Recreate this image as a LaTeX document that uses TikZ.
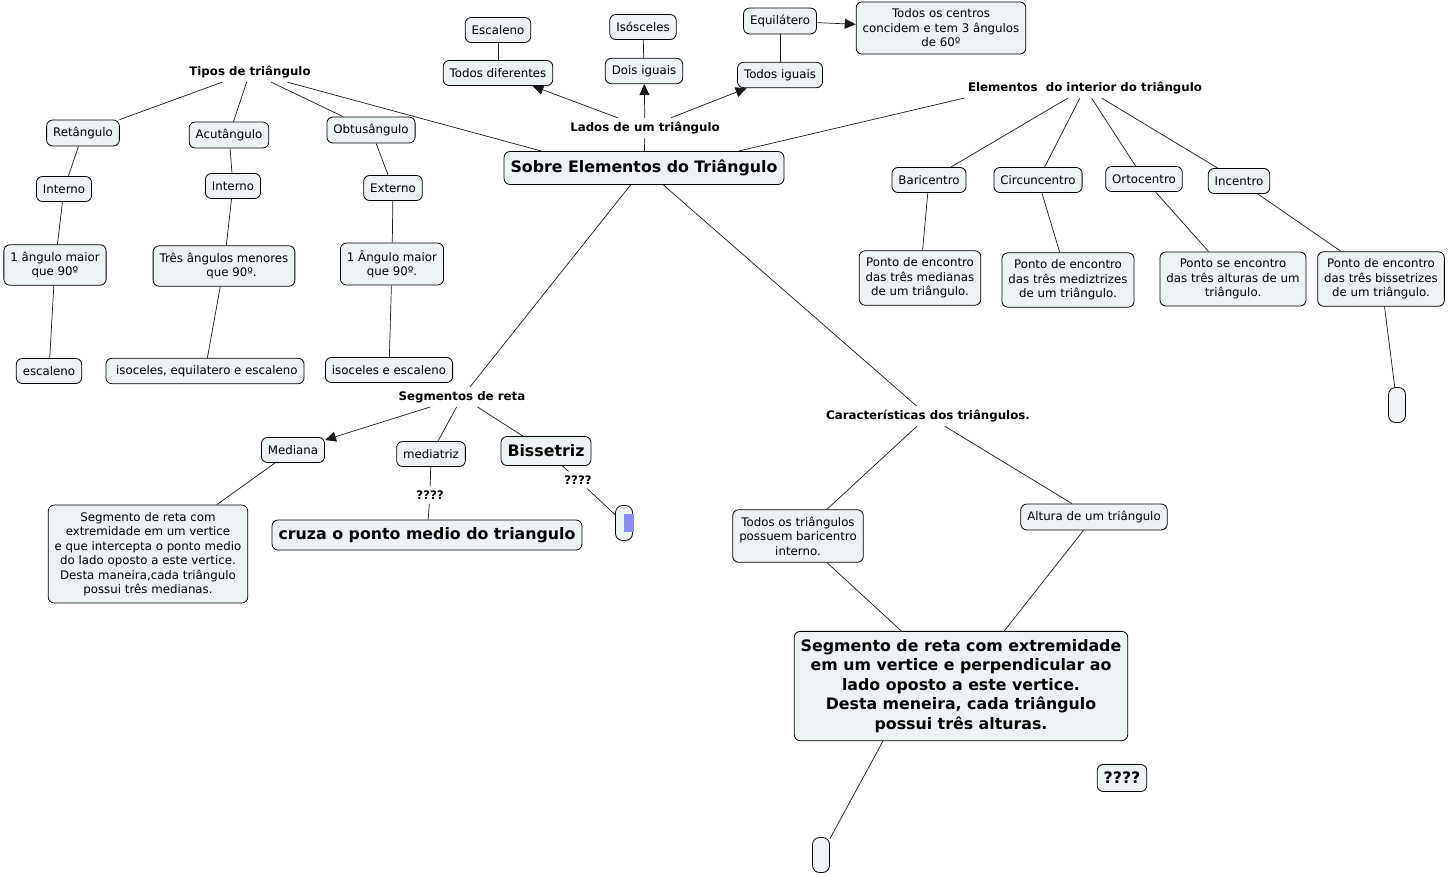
\documentclass[tikz,border=0pt]{standalone}
\usepackage{fontspec}
\setmainfont{DejaVu Sans}
\usetikzlibrary{arrows.meta}
\usetikzlibrary{positioning}
\definecolor{fundo}{RGB}{237,243,245}
\definecolor{marca}{RGB}{140,140,250}

\begin{document}
\begin{tikzpicture}[x=1pt,y=-1pt,>={Triangle[length=11pt,width=10pt]},
  conceito/.style={draw=black, line width=0.8pt, fill=fundo, rounded corners=6pt, align=center,
    inner xsep=6.5pt, inner ysep=7pt, minimum height=25pt, font=\fontsize{11.8}{14.5}\selectfont},
  destaque/.style={conceito, font=\bfseries\fontsize{15.8}{19.5}\selectfont},
  ligacao/.style={inner sep=4pt, font=\bfseries\fontsize{11.8}{14}\selectfont},
  vazio/.style={draw=black, line width=0.8pt, fill=fundo, rounded corners=7pt, minimum width=17pt, minimum height=35pt},
  liga/.style={draw=black!90, line width=0.7pt}]
    \useasboundingbox (0,0) rectangle (1448,876);
    % conceito central e frases de ligacao
    \node[destaque, minimum height=33pt] (sobre) at (644,168) {Sobre Elementos do Triângulo};
    \node[ligacao] (lados) at (645,128) {Lados de um triângulo};
    \node[ligacao] (tipos) at (250,72) {Tipos de triângulo};
    \node[ligacao] (elem) at (1085,88) {Elementos\ \ do interior do triângulo};
    \node[ligacao] (segm) at (462,397) {Segmentos de reta};
    \node[ligacao] (carac) at (928,416) {Características dos triângulos.};

    % lados
    \node[conceito] (escal) at (498,30) {Escaleno};
    \node[conceito] (difer) at (498,73) {Todos diferentes};
    \node[conceito] (isosc) at (643,27) {Isósceles};
    \node[conceito] (dois) at (644,71) {Dois iguais};
    \node[conceito] (equil) at (780,21) {Equilátero};
    \node[conceito] (iguais) at (780,75) {Todos iguais};
    \node[conceito] (centros) at (941,28) {Todos os centros\\concidem e tem 3 ângulos\\de 60º};

    % tipos: tres colunas, cada uma uma cadeia
    \node[conceito] (ret) at (83,133) {Retângulo};
    \node[conceito] (acut) at (229,135) {Acutângulo};
    \node[conceito] (obtu) at (371,130) {Obtusângulo};
    \node[conceito] (intA) at (64,189) {Interno};
    \node[conceito] (intB) at (233,186) {Interno};
    \node[conceito] (ext) at (393,188) {Externo};
    \node[conceito] (maiorA) at (55,265) {1 ângulo maior\\que 90º};
    \node[conceito] (menores) at (224,266) {Três ângulos menores\\\ \ \ \ que 90º.};
    \node[conceito] (maiorB) at (392,264) {1 Ângulo maior\\que 90º.};
    \node[conceito] (escA) at (49,371) {escaleno};
    \node[conceito] (escB) at (205,371) {\ isoceles, equilatero e escaleno};
    \node[conceito] (escC) at (389,370) {isoceles e escaleno};

    % elementos do interior
    \node[conceito] (bari) at (929,180) {Baricentro};
    \node[conceito] (circ) at (1038,180) {Circuncentro};
    \node[conceito] (orto) at (1144,179) {Ortocentro};
    \node[conceito] (ince) at (1239,181) {Incentro};
    \node[conceito] (pBari) at (920,278) {Ponto de encontro\\das três medianas\\de um triângulo.};
    \node[conceito] (pCirc) at (1068,280) {Ponto de encontro\\das três mediztrizes\\de um triângulo.};
    \node[conceito] (pOrto) at (1233,279) {Ponto se encontro\\das três alturas de um\\triângulo.};
    \node[conceito] (pInce) at (1381,279) {Ponto de encontro\\das três bissetrizes\\de um triângulo.};
    \node[vazio] (vazioA) at (1397,405) {};

    % segmentos de reta
    \node[conceito] (mediana) at (293,450) {Mediana};
    \node[conceito] (mediatriz) at (431,454) {mediatriz};
    \node[destaque, inner ysep=5pt, minimum height=29pt] (bisse) at (546,451) {Bissetriz};
    \node[conceito] (defMed) at (148,554) {Segmento de reta com\\extremidade em um vertice\\e que intercepta o ponto medio\\do lado oposto a este vertice.\\Desta maneira,cada triângulo\\possui três medianas.};
    \node[ligacao] (interA) at (430,495) {????};
    \node[destaque, inner ysep=5pt, minimum height=30pt] (cruza) at (427,535) {cruza o ponto medio do triangulo};
    \node[ligacao] (interB) at (578,480) {????};
    \node[vazio] (vazioB) at (624,523) {};
    \fill[marca] (624,514) rectangle (634,532);

    % caracteristicas
    \node[conceito] (todos) at (798,536) {Todos os triângulos\\possuem baricentro\\interno.};
    \node[conceito] (altura) at (1094,517) {Altura de um triângulo};
    \node[destaque, inner ysep=8pt] (defAlt) at (961,686) {Segmento de reta com extremidade\\em um vertice e perpendicular ao\\lado oposto a este vertice.\\Desta meneira, cada triângulo\\possui três alturas.};
    \node[destaque, inner ysep=5pt, minimum height=27pt] (solto) at (1122,778) {????};
    \node[vazio] (vazioC) at (821,855) {};

    % ligacoes
    \draw[liga] (sobre) -- (lados);
    \draw[liga,->] (lados) -- (difer);
    \draw[liga,->] (lados) -- (dois);
    \draw[liga,->] (lados) -- (iguais);
    \draw[liga] (difer) -- (escal);
    \draw[liga] (dois) -- (isosc);
    \draw[liga] (iguais) -- (equil);
    \draw[liga,->] (equil) -- (centros);

    \draw[liga] ([xshift=38pt]sobre.north west) -- (tipos);
    \foreach \t in {ret,acut,obtu} \draw[liga] (tipos) -- (\t);
    \draw[liga] (ret) -- (intA) -- (maiorA) -- (escA);
    \draw[liga] (acut) -- (intB) -- (menores) -- (escB);
    \draw[liga] (obtu) -- (ext) -- (maiorB) -- (escC);

    \draw[liga] ([xshift=-46pt]sobre.north east) -- (elem.south west);
    \foreach \e/\p in {bari/pBari,circ/pCirc,orto/pOrto,ince/pInce}
        \draw[liga] (elem) -- (\e) -- (\p);
    \draw[liga] (pInce) -- (vazioA);

    \draw[liga] (sobre) -- (segm);
    \draw[liga,->] (segm) -- (mediana);
    \draw[liga] (segm) -- (mediatriz);
    \draw[liga] (segm) -- (bisse);
    \draw[liga] (mediana) -- (defMed);
    \draw[liga] (mediatriz) -- (interA) -- (cruza);
    \draw[liga] (bisse) -- (interB) -- (vazioB);

    \draw[liga] (sobre) -- (carac);
    \draw[liga] (carac) -- (todos) -- (defAlt);
    \draw[liga] (carac) -- (altura) -- (defAlt);
    \draw[liga] ([xshift=-78pt]defAlt.south) -- (vazioC);
\end{tikzpicture}
\end{document}
